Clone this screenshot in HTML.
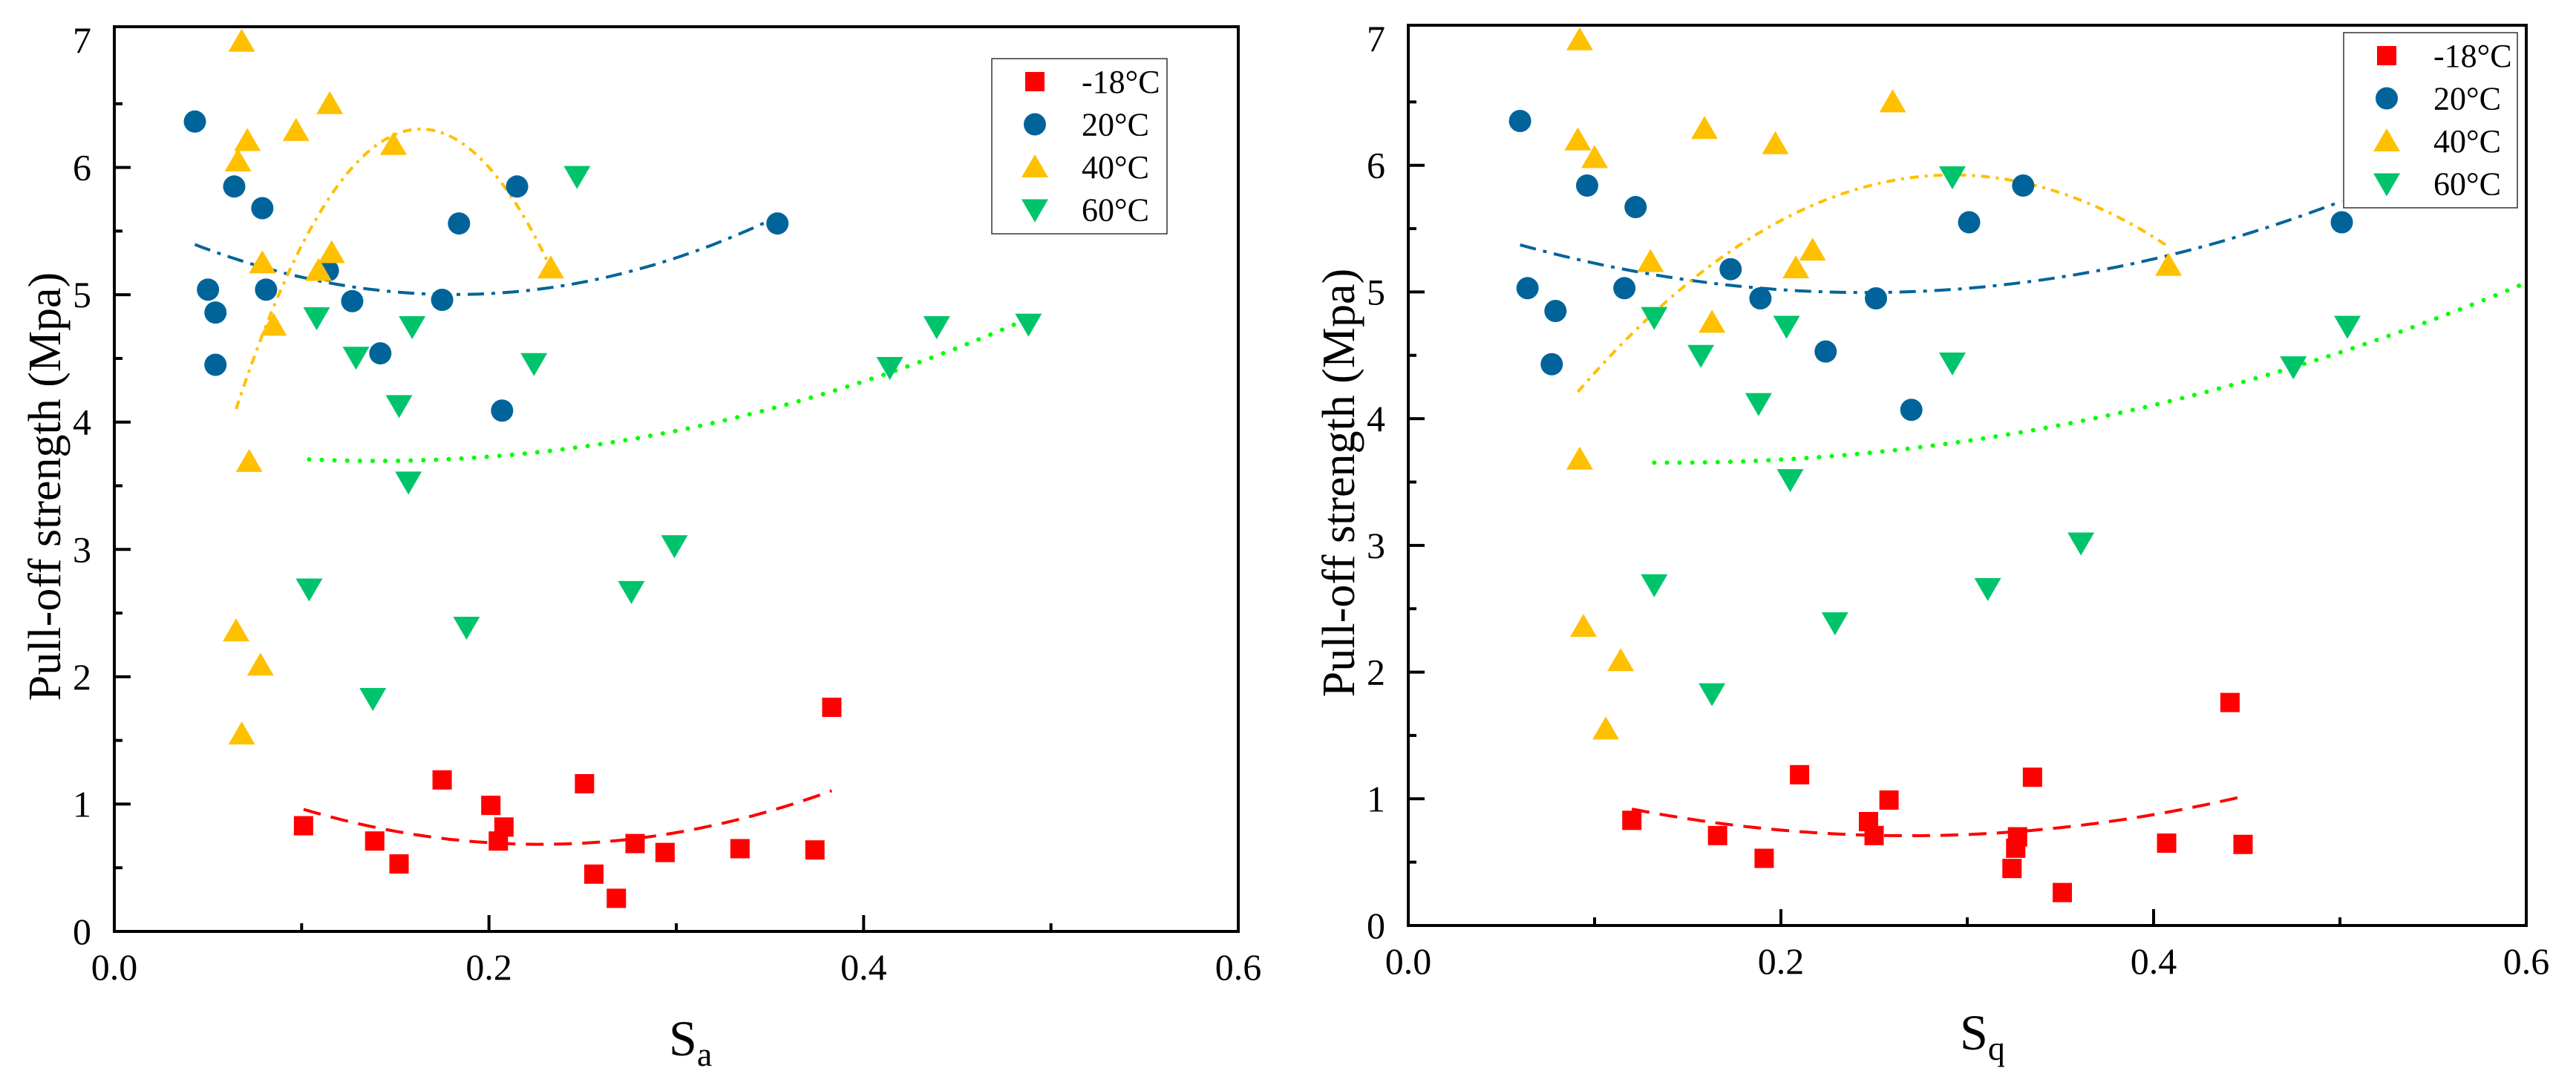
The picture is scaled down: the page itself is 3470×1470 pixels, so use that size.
<!DOCTYPE html>
<html><head><meta charset="utf-8"><style>
html,body{margin:0;padding:0;background:#fff;}
svg{display:block;font-family:"Liberation Serif","Times New Roman",serif;}
</style></head>
<body>
<svg id="fig" width="3470" height="1470" viewBox="0 0 3470 1470" xmlns="http://www.w3.org/2000/svg"></svg>
<script>
// ---------- DATA: left panel (Sa) ----------
const saRedX = [0.101,0.139,0.152,0.175,0.201,0.208,0.205,0.251,0.256,0.268,0.278,0.294,0.334,0.374,0.383];
const saRedY = [0.83,0.71,0.53,1.19,0.99,0.82,0.71,1.16,0.45,0.26,0.69,0.62,0.65,0.64,1.76];
const saBlueX = [0.043,0.064,0.079,0.215,0.184,0.354,0.114,0.050,0.081,0.054,0.127,0.175,0.142,0.054,0.207];
const saBlueY = [6.36,5.85,5.68,5.85,5.56,5.56,5.19,5.04,5.04,4.86,4.95,4.96,4.54,4.45,4.09];
const saYellowX = [0.068,0.115,0.097,0.071,0.066,0.149,0.116,0.079,0.109,0.233,0.085,0.072,0.065,0.078,0.068];
const saYellowY = [6.99,6.50,6.29,6.21,6.05,6.18,5.33,5.25,5.19,5.21,4.76,3.69,2.36,2.09,1.55];
const saGreenX = [0.247,0.108,0.159,0.129,0.224,0.152,0.157,0.299,0.104,0.276,0.188,0.138,0.414,0.439,0.488];
const saGreenY = [5.93,4.82,4.75,4.51,4.46,4.13,3.53,3.03,2.69,2.67,2.39,1.83,4.43,4.75,4.77];
// ---------- DATA: right panel (Sq) ----------
const sqRedX = [0.120,0.166,0.191,0.210,0.258,0.247,0.250,0.335,0.327,0.326,0.324,0.351,0.407,0.448,0.441];
const sqRedY = [0.83,0.71,0.53,1.19,0.99,0.82,0.71,1.17,0.70,0.61,0.45,0.26,0.65,0.64,1.76];
const sqBlueX = [0.060,0.096,0.122,0.330,0.301,0.501,0.173,0.064,0.116,0.079,0.189,0.251,0.224,0.077,0.270];
const sqBlueY = [6.35,5.84,5.67,5.84,5.55,5.55,5.18,5.03,5.03,4.85,4.95,4.95,4.53,4.43,4.07];
const sqYellowX = [0.092,0.260,0.159,0.091,0.197,0.100,0.217,0.130,0.208,0.408,0.163,0.092,0.094,0.114,0.106];
const sqYellowY = [6.99,6.50,6.29,6.20,6.17,6.06,5.33,5.24,5.19,5.21,4.76,3.68,2.36,2.09,1.55];
const sqGreenX = [0.292,0.132,0.203,0.157,0.504,0.292,0.475,0.188,0.205,0.361,0.132,0.311,0.229,0.163];
const sqGreenY = [5.91,4.80,4.73,4.50,4.73,4.44,4.41,4.12,3.52,3.02,2.69,2.66,2.39,1.83];
// ---------- axis ticks / labels ----------
const xTickLabels = ["0.0","0.2","0.4","0.6"];
const xTickValues = [0,0.2,0.4,0.6];
const yTickValues = [0,1,2,3,4,5,6,7];
const legendLabels = ["-18°C","20°C","40°C","60°C"];

const NS="http://www.w3.org/2000/svg";
const svg=document.getElementById('fig');
function el(tag,attrs,parent){const e=document.createElementNS(NS,tag);for(const k in attrs)e.setAttribute(k,attrs[k]);(parent||svg).appendChild(e);return e;}

const COL={red:"#FF0000",blue:"#00649A",yellow:"#FFC000",green:"#00C46B"};
const LINE={red:{c:"#FF0000",d:"24 14"},blue:{c:"#00649A",d:"22 10 5 10"},yellow:{c:"#FFC000",d:"12 8 4 8"},green:{c:"#00FF00",d:"0.1 17"}};

function quadFit(xs,ys){
  let S=[0,0,0,0,0],T=[0,0,0];
  for(let i=0;i<xs.length;i++){let p=1;for(let k=0;k<5;k++){S[k]+=p;if(k<3)T[k]+=p*ys[i];p*=xs[i];}}
  const A=[[S[0],S[1],S[2],T[0]],[S[1],S[2],S[3],T[1]],[S[2],S[3],S[4],T[2]]];
  for(let c=0;c<3;c++){let m=c;for(let r=c+1;r<3;r++)if(Math.abs(A[r][c])>Math.abs(A[m][c]))m=r;[A[c],A[m]]=[A[m],A[c]];
    for(let r=0;r<3;r++){if(r===c)continue;const f=A[r][c]/A[c][c];for(let k=c;k<4;k++)A[r][k]-=f*A[c][k];}}
  return [A[0][3]/A[0][0],A[1][3]/A[1][1],A[2][3]/A[2][2]];
}

function marker(g,kind,cx,cy,name){
  let e;
  if(kind==="red") e=el('rect',{x:cx-13,y:cy-13,width:26,height:26,fill:COL.red},g);
  else if(kind==="blue") e=el('circle',{cx:cx,cy:cy,r:15,fill:COL.blue},g);
  else if(kind==="yellow") e=el('polygon',{points:`${cx-18},${cy+14} ${cx+18},${cy+14} ${cx},${cy-17}`,fill:COL.yellow},g);
  else e=el('polygon',{points:`${cx-18},${cy-14} ${cx+18},${cy-14} ${cx},${cy+17}`,fill:COL.green},g);
  
  
  return e;
}

function panel(p){
  const g=el('g',{});
  
  
  const X=v=>p.x0+(p.x1-p.x0)*v/0.6;
  const Y=v=>p.y0-(p.y0-p.y7)*v/7;
  // frame
  const fr=el('rect',{x:p.x0,y:p.top,width:p.x1-p.x0,height:p.y0-p.top,fill:"none",stroke:"#000","stroke-width":4},g);
  
  
  // x ticks
  for(let v=0.1;v<0.6;v+=0.1){const major=Math.abs((v*10)%2)<0.01||Math.abs((v*10)%2-2)<0.01;
    const t=el('line',{x1:X(v),x2:X(v),y1:p.y0,y2:p.y0-(major?22:11),stroke:"#000","stroke-width":4},g);
    
    }
  xTickValues.forEach((v,i)=>{const t=el('text',{x:X(v),y:p.y0+65,"font-size":50,"text-anchor":"middle"},g);t.textContent=xTickLabels[i];
    
    });
  // y ticks
  for(let k=1;k<14;k++){const v=k*0.5;const major=k%2===0;
    const t=el('line',{x1:p.x0,x2:p.x0+(major?22:11),y1:Y(v),y2:Y(v),stroke:"#000","stroke-width":4},g);
    
    }
  yTickValues.forEach(v=>{const t=el('text',{x:p.x0-31,y:Y(v)+17,"font-size":50,"text-anchor":"end"},g);t.textContent=String(v);
    
    });
  // titles
  const yt=el('text',{x:0,y:0,"font-size":62,"text-anchor":"middle",transform:`translate(${p.x0-73},${(p.top+p.y0)/2+10}) rotate(-90)`},g);
  yt.textContent="Pull-off strength (Mpa)";
  
  
  const xt=el('text',{x:(p.x0+p.x1)/2-10,y:p.y0+167,"font-size":68},g);
  
  
  xt.textContent="S";
  const sub=el('tspan',{"font-size":46,dy:14},xt);sub.textContent=p.sub;
  // fits
  p.series.forEach(s=>{
    const c=quadFit(s.x,s.y);
    const lo=Math.min(...s.x),hi=s.fitHi!==undefined?s.fitHi:Math.max(...s.x);
    let d="";for(let i=0;i<=80;i++){const xv=lo+(hi-lo)*i/80;const yv=c[0]+c[1]*xv+c[2]*xv*xv;d+=(i?"L":"M")+X(xv).toFixed(1)+","+Y(yv).toFixed(1);}
    const L=LINE[s.kind];
    const pa=el('path',{d:d,fill:"none",stroke:L.c,"stroke-width":s.kind==="green"?6:4,"stroke-dasharray":L.d,"stroke-linecap":s.kind==="green"?"round":"butt"},g);
    
    
  });
  // markers
  p.series.forEach(s=>{s.x.forEach((xv,i)=>marker(g,s.kind,X(xv),Y(s.y[i]),s.kind+'-point'));});
  // legend
  const lg=el('g',{},g);
  
  
  const bx=el('rect',{x:p.lx,y:p.ly,width:p.lw,height:236,fill:"#fff",stroke:"#333","stroke-width":1.5},lg);
  
  
  ["red","blue","yellow","green"].forEach((k,i)=>{
    const cy=p.ly+31+i*57.5;
    marker(lg,k,p.lx+58,cy,'legend-marker');
    const t=el('text',{x:p.lx+121,y:cy+15,"font-size":44},lg);t.textContent=legendLabels[i];
    
    
  });
}

panel({id:"sa",x0:154,x1:1668,y0:1255,y7:54,top:36,sub:"a",lx:1336,ly:79,lw:236,series:[
  {kind:"red",x:saRedX,y:saRedY},{kind:"blue",x:saBlueX,y:saBlueY},
  {kind:"yellow",x:saYellowX,y:saYellowY},{kind:"green",x:saGreenX,y:saGreenY}]});
panel({id:"sq",x0:1897,x1:3403,y0:1247,y7:52,top:34,sub:"q",lx:3157,ly:44,lw:234,series:[
  {kind:"red",x:sqRedX,y:sqRedY},{kind:"blue",x:sqBlueX,y:sqBlueY},
  {kind:"yellow",x:sqYellowX,y:sqYellowY},{kind:"green",x:sqGreenX,y:sqGreenY,fitHi:0.6}]});
</script>
</body></html>
